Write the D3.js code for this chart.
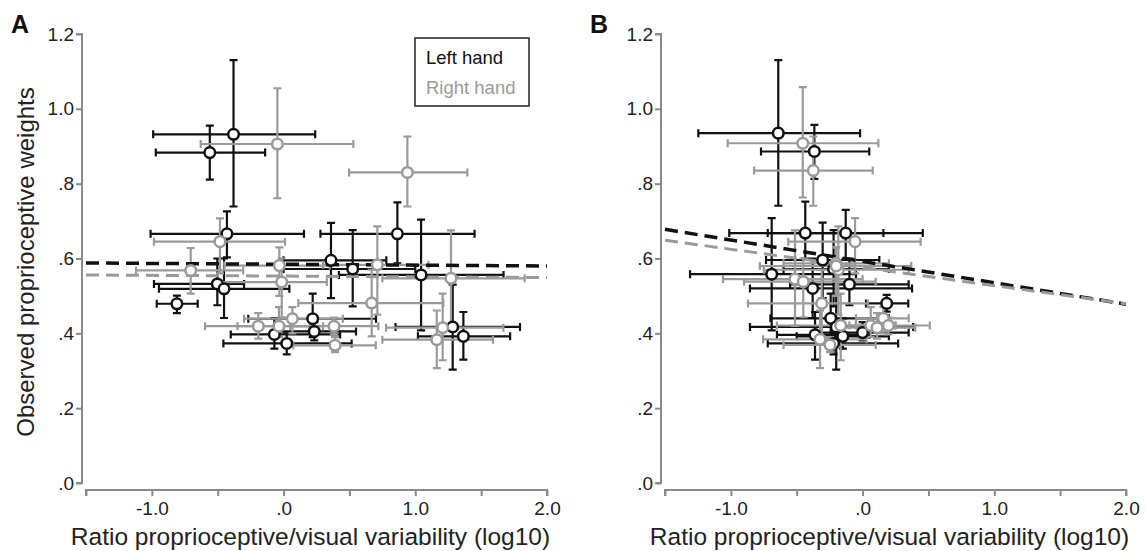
<!DOCTYPE html>
<html><head><meta charset="utf-8">
<script src="https://cdn.jsdelivr.net/npm/d3@7"></script>
<style>body{margin:0;background:#fff} text{font-family:"Liberation Sans",Arial,sans-serif}</style>
</head><body><svg id="c" width="1146" height="551"></svg>
<script>
// ---- tick data ----
const xTickValues = [-1.5, -1, -0.5, 0, 0.5, 1, 1.5, 2];
const xLabelValues = [-1, 0, 1, 2];
const xLabels = ["-1.0", ".0", "1.0", "2.0"];
const yTickValues = [0, 0.2, 0.4, 0.6, 0.8, 1.0, 1.2];
const yLabels = [".0", ".2", ".4", ".6", ".8", "1.0", "1.2"];
const seriesNames = ["Left hand", "Right hand"];
const panelNames = ["A", "B"];
const xTitle = "Ratio proprioceptive/visual variability (log10)";
const yTitle = "Observed proprioceptive weights";

// ---- Panel A, left hand ----
const aLeftX   = [-0.38,-0.56,-0.43,0.36,0.525,0.864,1.044,1.284,1.365,-0.81,-0.503,-0.452,0.221,-0.07,0.233,0.024];
const aLeftY   = [0.932,0.883,0.666,0.595,0.572,0.666,0.556,0.417,0.392,0.479,0.532,0.519,0.439,0.397,0.405,0.373];
const aLeftXlo = [-0.99,-0.97,-1.01,0.0,0.0,0.28,0.42,0.85,1.02,-0.963,-0.984,-0.946,-0.268,-0.401,-0.05,-0.457];
const aLeftXhi = [0.24,-0.14,0.155,0.78,1.0,1.45,1.67,1.795,1.72,-0.652,-0.3,0.044,0.702,0.429,0.55,0.517];
const aLeftYlo = [0.739,0.811,0.603,0.494,0.472,0.587,0.408,0.303,0.33,0.454,0.475,0.441,0.39,0.359,0.381,0.344];
const aLeftYhi = [1.13,0.955,0.726,0.695,0.676,0.75,0.704,0.53,0.457,0.501,0.6,0.6,0.506,0.44,0.43,0.40];
// ---- Panel A, right hand ----
const aRightX   = [-0.047,0.94,-0.483,-0.032,0.712,1.271,0.669,1.208,1.163,-0.705,-0.014,0.067,-0.192,-0.035,0.383,0.391];
const aRightY   = [0.906,0.83,0.645,0.581,0.583,0.547,0.481,0.415,0.383,0.568,0.537,0.439,0.419,0.419,0.419,0.368];
const aRightXlo = [-0.629,0.497,-0.984,-0.45,0.3,0.75,0.112,0.778,0.75,-1.12,-0.5,-0.3,-0.596,-0.35,0.05,0.074];
const aRightXhi = [0.53,1.395,0.011,0.35,1.1,1.83,1.213,1.669,1.59,-0.306,0.328,0.45,0.2,0.3,0.72,0.70];
const aRightYlo = [0.761,0.739,0.56,0.5,0.45,0.42,0.392,0.328,0.307,0.506,0.443,0.40,0.386,0.39,0.397,0.35];
const aRightYhi = [1.055,0.926,0.707,0.63,0.686,0.675,0.57,0.506,0.461,0.628,0.6,0.47,0.454,0.47,0.442,0.39];
// ---- Panel B, left hand ----
const bLeftX   = [-0.64,-0.366,-0.435,-0.128,-0.303,-0.22,-0.69,-0.1,-0.379,0.183,-0.242,-0.2,0.0,-0.361,-0.22,-0.15];
const bLeftY   = [0.935,0.886,0.668,0.668,0.596,0.572,0.558,0.531,0.52,0.48,0.44,0.417,0.402,0.396,0.373,0.392];
const bLeftXlo = [-1.247,-0.771,-1.012,-0.72,-0.733,-0.6,-1.31,-0.55,-0.855,0.026,-0.7,-0.855,-0.35,-0.65,-0.72,-0.5];
const bLeftXhi = [-0.019,0.051,0.158,0.457,0.127,0.2,-0.05,0.35,0.376,0.347,0.2,0.384,0.35,0.05,0.27,0.2];
const bLeftYlo = [0.741,0.813,0.6,0.6,0.494,0.472,0.408,0.475,0.441,0.458,0.39,0.303,0.381,0.33,0.344,0.359];
const bLeftYhi = [1.13,0.957,0.752,0.73,0.696,0.676,0.708,0.6,0.6,0.503,0.506,0.53,0.43,0.457,0.40,0.44];
// ---- Panel B, right hand ----
const bRightX   = [-0.454,-0.374,-0.057,-0.202,-0.184,-0.513,-0.45,-0.31,0.158,-0.166,0.062,0.196,-0.323,-0.247,-0.2,0.11];
const bRightY   = [0.908,0.835,0.645,0.587,0.57,0.545,0.538,0.48,0.44,0.421,0.421,0.421,0.384,0.369,0.58,0.415];
const bRightXlo = [-1.024,-0.824,-0.564,-0.6,-0.75,-1.06,-0.9,-0.87,-0.05,-0.65,-0.1,-0.05,-0.755,-0.6,-0.78,-0.2];
const bRightXhi = [0.12,0.077,0.441,0.2,0.35,0.0,0.1,0.04,0.35,0.25,0.25,0.51,0.03,0.1,0.37,0.4];
const bRightYlo = [0.763,0.741,0.56,0.5,0.45,0.42,0.443,0.392,0.40,0.328,0.39,0.397,0.307,0.35,0.5,0.386];
const bRightYhi = [1.058,0.926,0.708,0.63,0.686,0.675,0.6,0.57,0.47,0.506,0.47,0.442,0.461,0.39,0.63,0.454];

// ---- regression lines (value at x=-1.5 and x=2.0) ----
const fitX = [-1.5, 2.0];
const aLeftFit = [0.588, 0.580];
const aRightFit = [0.556, 0.549];
const bLeftFit = [0.678, 0.478];
const bRightFit = [0.649, 0.479];

const BLACK = "#111", GRAY = "#9a9a9a", AXIS = "#8a8a8a";
const svg = d3.select("#c");

function mk(x, y, xlo, xhi, ylo, yhi) {
  return x.map((v, i) => ({x: v, y: y[i], xlo: xlo[i], xhi: xhi[i], ylo: ylo[i], yhi: yhi[i]}));
}

const panels = [
  {name: panelNames[0], off: 0, series: [
    {data: mk(aLeftX, aLeftY, aLeftXlo, aLeftXhi, aLeftYlo, aLeftYhi), fit: aLeftFit, color: BLACK, dw: 3.5},
    {data: mk(aRightX, aRightY, aRightXlo, aRightXhi, aRightYlo, aRightYhi), fit: aRightFit, color: GRAY, dw: 3}], legend: true},
  {name: panelNames[1], off: 579, series: [
    {data: mk(bLeftX, bLeftY, bLeftXlo, bLeftXhi, bLeftYlo, bLeftYhi), fit: bLeftFit, color: BLACK, dw: 3.5},
    {data: mk(bRightX, bRightY, bRightXlo, bRightXhi, bRightYlo, bRightYhi), fit: bRightFit, color: GRAY, dw: 3}], legend: false}
];

const y = d3.scaleLinear().domain([0, 1.2]).range([483, 34]);

panels.forEach(p => {
  const g = svg.append("g").attr("transform", `translate(${p.off},0)`);
  const x = d3.scaleLinear().domain([-1.5, 2.0]).range([86, 547]);

  // y axis
  const yAx = g.append("g").attr("transform", "translate(82,0)")
    .call(d3.axisLeft(y).tickValues(yTickValues).tickSize(6).tickFormat((d, i) => yLabels[i]));
  yAx.select(".domain").attr("stroke", AXIS).attr("stroke-width", 2).attr("d", `M-6,${y(1.2)}H0V${y(0)}H-6`);
  yAx.selectAll(".tick line").attr("stroke", AXIS).attr("stroke-width", 2);
  yAx.selectAll(".tick text").attr("fill", "#222").attr("font-size", 19).attr("x", -8)
    .attr("font-family", "Liberation Sans, Arial, sans-serif");

  // x axis
  const xAx = g.append("g").attr("transform", "translate(0,490)")
    .call(d3.axisBottom(x).tickValues(xTickValues).tickSize(6).tickFormat(d => {
      const k = xLabelValues.indexOf(d); return k >= 0 ? xLabels[k] : "";
    }));
  xAx.select(".domain").attr("stroke", AXIS).attr("stroke-width", 2).attr("d", `M${x(-1.5)},6V0H${x(2)}V6`);
  xAx.selectAll(".tick line").attr("stroke", AXIS).attr("stroke-width", 2);
  xAx.selectAll(".tick text").attr("fill", "#222").attr("font-size", 19).attr("y", 12)
    .attr("font-family", "Liberation Sans, Arial, sans-serif");

  // titles
  g.append("text").attr("x", (x(-1.5) + x(2)) / 2 - 6).attr("y", 545).attr("text-anchor", "middle")
    .attr("font-size", 24.5).attr("fill", "#222").text(xTitle);
  if (p.off === 0) {
    g.append("text").attr("transform", "translate(34,262) rotate(-90)").attr("text-anchor", "middle")
      .attr("font-size", 24).attr("fill", "#222").text(yTitle);
  }
  g.append("text").attr("x", 11).attr("y", 33).attr("font-size", 25).attr("font-weight", "bold")
    .attr("fill", "#111").text(p.name);

  const capW = 4;
  p.series.forEach(s => {
    const sg = g.append("g");
    s.data.forEach(d => {
      const path = d3.path();
      path.moveTo(x(d.xlo), y(d.y)); path.lineTo(x(d.xhi), y(d.y));
      path.moveTo(x(d.xlo), y(d.y) - capW); path.lineTo(x(d.xlo), y(d.y) + capW);
      path.moveTo(x(d.xhi), y(d.y) - capW); path.lineTo(x(d.xhi), y(d.y) + capW);
      path.moveTo(x(d.x), y(d.ylo)); path.lineTo(x(d.x), y(d.yhi));
      path.moveTo(x(d.x) - capW, y(d.ylo)); path.lineTo(x(d.x) + capW, y(d.ylo));
      path.moveTo(x(d.x) - capW, y(d.yhi)); path.lineTo(x(d.x) + capW, y(d.yhi));
      sg.append("path").attr("d", path.toString()).attr("stroke", s.color).attr("stroke-width", 2.2).attr("fill", "none");
    });
  });
  p.series.forEach(s => {
    g.append("line").attr("x1", x(fitX[0])).attr("x2", x(fitX[1]))
      .attr("y1", y(s.fit[0])).attr("y2", y(s.fit[1]))
      .attr("stroke", s.color).attr("stroke-width", s.dw).attr("stroke-dasharray", "13,7");
  });
  p.series.forEach(s => {
    g.append("g").selectAll("circle").data(s.data).join("circle")
      .attr("cx", d => x(d.x)).attr("cy", d => y(d.y)).attr("r", 5.3)
      .attr("fill", "#fff").attr("stroke", s.color).attr("stroke-width", 2.5);
  });

  if (p.legend) {
    g.append("rect").attr("x", 415).attr("y", 38).attr("width", 114).attr("height", 68)
      .attr("fill", "#fff").attr("stroke", "#222").attr("stroke-width", 1.5);
    g.append("text").attr("x", 426).attr("y", 64).attr("font-size", 18.5).attr("fill", BLACK).text(seriesNames[0]);
    g.append("text").attr("x", 426).attr("y", 94).attr("font-size", 18.5).attr("fill", GRAY).text(seriesNames[1]);
  }
});
</script></body></html>
